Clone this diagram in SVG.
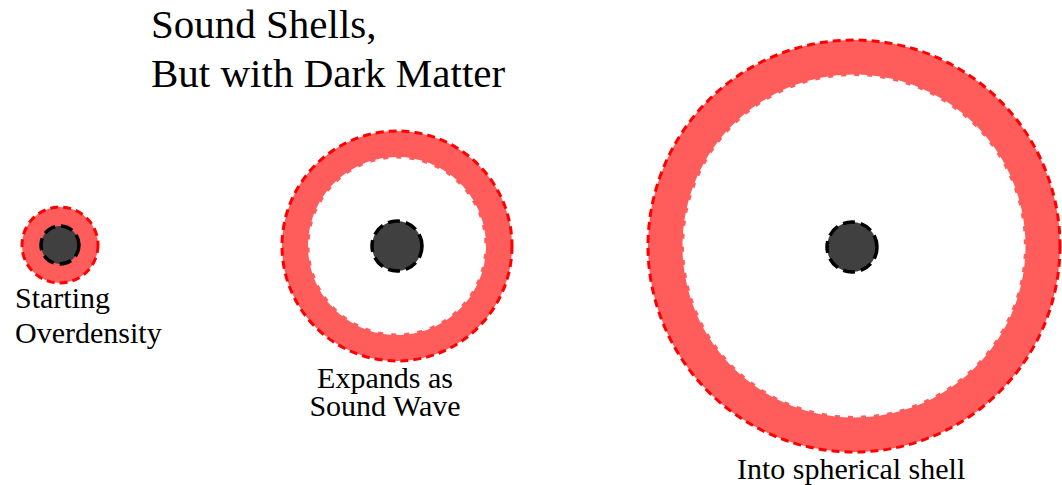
<svg xmlns="http://www.w3.org/2000/svg" width="1062" height="485" viewBox="0 0 1062 485">
  <style>
    .shell { fill: #ff5c5c; stroke: #ff0000; stroke-width: 3; stroke-dasharray: 8 5; }
    .hole { fill: #ffffff; stroke: #ffffff; stroke-width: 3; stroke-dasharray: 8 5; }
    .dm { fill: #404040; stroke: #000000; stroke-width: 3.5; stroke-dasharray: 12 6; }
    .title { font-family: "Liberation Serif", "Times New Roman", serif; font-size: 41px; fill: #000; }
    .label { font-family: "Liberation Serif", "Times New Roman", serif; font-size: 30px; fill: #000; }
  </style>
  <rect width="1062" height="485" fill="#ffffff"/>
  <g id="title">
    <text class="title" x="151" y="38">Sound Shells,</text>
    <text class="title" x="151" y="87">But with Dark Matter</text>
  </g>
  <g id="stage1">
    <circle class="shell" cx="60" cy="245" r="38"/>
    <circle class="dm" cx="60" cy="245" r="19"/>
    <text class="label" x="15" y="308">Starting</text>
    <text class="label" x="15" y="343">Overdensity</text>
  </g>
  <g id="stage2">
    <circle class="shell" cx="397" cy="246" r="115"/>
    <circle class="hole" cx="397" cy="246" r="87.5"/>
    <circle class="dm" cx="397" cy="246" r="25"/>
    <text class="label" x="385" y="388" text-anchor="middle">Expands as</text>
    <text class="label" x="385" y="416" text-anchor="middle">Sound Wave</text>
  </g>
  <g id="stage3">
    <circle class="shell" cx="854" cy="246" r="206"/>
    <circle class="hole" cx="854" cy="246" r="170"/>
    <circle class="dm" cx="852" cy="247" r="25"/>
    <text class="label" x="737" y="479">Into spherical shell</text>
  </g>
  <g id="connectors"/>
</svg>
